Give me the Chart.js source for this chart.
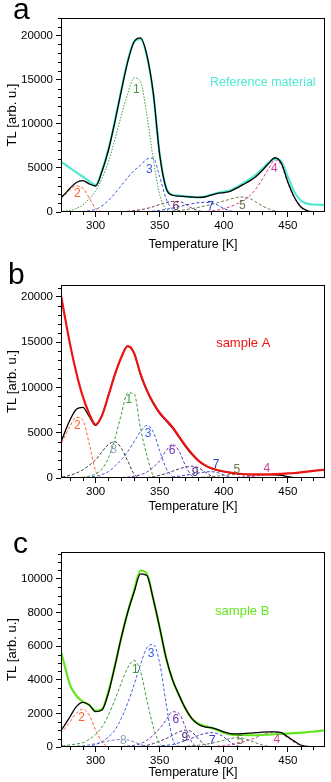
<!DOCTYPE html>
<html>
<head>
<meta charset="utf-8">
<script src="https://cdn.jsdelivr.net/npm/chart.js@4"></script>
<style>
body{margin:0;background:#fff;width:331px;height:782px;position:relative;overflow:hidden;font-family:"Liberation Sans",Arial,sans-serif}
.panel{position:absolute;left:0;width:331px}
.letter{position:absolute;font-size:30px;line-height:1;color:#000}
</style>
</head>
<body>
<div class="panel" style="top:0;height:252px"><canvas id="chartA"></canvas></div>
<div class="panel" style="top:252px;height:262px"><canvas id="chartB"></canvas></div>
<div class="panel" style="top:514px;height:266px"><canvas id="chartC"></canvas></div>
<div class="letter" style="top:-6px;left:13px">a</div>
<div class="letter" style="top:259px;left:8px">b</div>
<div class="letter" style="top:528px;left:13px">c</div>
<script>
// temperatures [K], one point every 5 K
const temps = [270,275,280,285,290,295,300,305,310,315,320,325,330,335,340,345,350,355,360,365,370,375,380,385,390,395,400,405,410,415,420,425,430,435,440,445,450,455,460,465,470,475,480];
const xTicks = [300, 350, 400, 450];

// ---- a : reference material
const aMeasured = [5900,5500,5000,4500,4000,3500,3050,4700,7100,10300,13800,17100,19300,19600,17700,13400,6600,2800,1950,1850,1800,1700,1650,1750,1950,2150,2300,2450,2800,3250,3700,4200,4900,5600,6050,5700,4000,2300,1300,950,850,800,820];
const aFit = [1300,1900,2700,3350,3550,3200,2950,4600,7000,10200,13700,17000,19300,19750,17800,13500,6500,2700,1900,1800,1750,1700,1650,1700,1900,2100,2200,2350,2700,3100,3500,4000,4700,5500,6150,5500,3400,1700,600,150,20,0,0];
const aPeak1 = [30,80,180,400,800,1500,2400,3800,5700,8200,10900,13400,15200,14800,11000,6000,2000,300,0,0,0,0,0,0,0,0,0,0,0,0,0,0,0,0,0,0,0,0,0,0,0,0,0];
const aPeak2 = [1200,1800,2500,2950,2700,1600,400,50,0,0,0,0,0,0,0,0,0,0,0,0,0,0,0,0,0,0,0,0,0,0,0,0,0,0,0,0,0,0,0,0,0,0,0];
const aPeak3 = [0,0,10,30,70,150,300,700,1300,2100,3000,3900,4700,5300,6000,6100,4000,1500,300,20,0,0,0,0,0,0,0,0,0,0,0,0,0,0,0,0,0,0,0,0,0,0,0];
const aPeak4 = [0,0,0,0,0,0,0,0,0,0,0,0,0,0,0,0,0,0,0,0,0,0,30,60,120,220,380,600,900,1300,1800,2600,3700,4900,5900,5300,3300,1600,550,130,10,0,0];
const aPeak5 = [0,0,0,0,0,0,0,0,0,0,0,0,0,0,0,0,0,50,100,170,260,380,520,680,850,1050,1250,1450,1650,1700,1550,1150,700,350,120,20,0,0,0,0,0,0,0];
const aPeak6 = [0,0,0,0,0,0,0,0,0,0,30,80,150,250,400,600,850,1050,1200,1200,900,450,150,30,0,0,0,0,0,0,0,0,0,0,0,0,0,0,0,0,0,0,0];
const aPeak7 = [0,0,0,0,0,0,0,0,0,0,0,0,0,0,50,100,180,300,450,600,780,930,1050,1100,1050,800,400,120,20,0,0,0,0,0,0,0,0,0,0,0,0,0,0];
const aTicks = [0, 5000, 10000, 15000, 20000];

// ---- b : sample A
const bMeasured = [22500,18600,14800,11600,9000,7100,5900,6900,9100,11400,13300,14550,13800,11500,9700,8300,7200,6400,5600,4600,3600,2700,1950,1450,1100,880,720,600,500,440,410,400,400,410,430,460,500,550,620,700,780,860,930];
const bFit = [3000,4700,6400,7600,7800,6800,5800,6900,9100,11400,13300,14550,13800,11400,9600,8200,7100,6300,5500,4500,3500,2600,1900,1400,1050,850,700,580,480,420,380,370,370,370,360,300,150,30,0,0,0,0,0];
const bPeak1 = [0,0,0,0,80,200,450,1000,2200,4300,7000,9400,9300,5500,2500,300,0,0,0,0,0,0,0,0,0,0,0,0,0,0,0,0,0,0,0,0,0,0,0,0,0,0,0];
const bPeak2 = [2900,4300,5700,6700,6400,3800,800,50,0,0,0,0,0,0,0,0,0,0,0,0,0,0,0,0,0,0,0,0,0,0,0,0,0,0,0,0,0,0,0,0,0,0,0];
const bPeak3 = [0,0,0,0,0,100,200,400,700,1300,2000,2900,4000,5100,5800,5100,3000,1100,150,0,0,0,0,0,0,0,0,0,0,0,0,0,0,0,0,0,0,0,0,0,0,0,0];
const bPeak4 = [0,0,0,0,0,0,0,0,0,0,0,0,0,0,0,0,0,0,0,0,0,0,0,0,0,0,30,50,80,130,180,240,300,360,370,300,150,30,0,0,0,0,0];
const bPeak5 = [0,0,0,0,0,0,0,0,0,0,0,0,0,0,0,0,0,0,0,0,0,0,50,100,150,220,300,380,400,350,200,80,0,0,0,0,0,0,0,0,0,0,0];
const bPeak6 = [0,0,0,0,0,0,0,0,0,0,50,100,200,350,650,1200,1900,3000,3750,3000,1400,250,0,0,0,0,0,0,0,0,0,0,0,0,0,0,0,0,0,0,0,0,0];
const bPeak7 = [0,0,0,0,0,0,0,0,0,0,0,0,0,0,0,0,30,60,100,200,300,430,550,650,700,600,350,100,0,0,0,0,0,0,0,0,0,0,0,0,0,0,0];
const bPeak8 = [50,150,300,550,900,1400,2000,2900,3700,4000,3300,1900,450,30,0,0,0,0,0,0,0,0,0,0,0,0,0,0,0,0,0,0,0,0,0,0,0,0,0,0,0,0,0];
const bPeak9 = [0,0,0,0,0,0,0,0,0,0,0,0,0,0,50,150,300,500,750,1000,1200,1300,1150,700,250,50,0,0,0,0,0,0,0,0,0,0,0,0,0,0,0,0,0];
const bTicks = [0, 5000, 10000, 15000, 20000];

// ---- c : sample B
const cMeasured = [6500,5100,3700,3050,2700,2500,2150,2250,3300,4800,6500,8000,9300,10500,10300,8800,7100,5300,4000,3100,2300,1700,1400,1250,1150,1000,850,750,720,720,700,700,720,740,760,780,800,820,850,880,920,960,1000];
const cFit = [700,1200,1800,2400,2650,2500,2100,2200,3200,4800,6500,8000,9200,10300,10200,8800,7100,5300,4000,3100,2300,1700,1350,1200,1150,1050,900,800,780,800,820,850,880,900,900,850,600,350,120,30,0,0,0];
const cPeak1 = [50,80,120,180,250,450,750,1200,1900,2800,3800,4700,5150,4500,2800,1200,200,0,0,0,0,0,0,0,0,0,0,0,0,0,0,0,0,0,0,0,0,0,0,0,0,0,0];
const cPeak2 = [600,1000,1500,2000,2250,1900,1000,300,30,0,0,0,0,0,0,0,0,0,0,0,0,0,0,0,0,0,0,0,0,0,0,0,0,0,0,0,0,0,0,0,0,0,0];
const cPeak3 = [0,0,0,0,0,50,150,300,600,1000,1700,2600,3700,4900,5900,6100,5000,2600,500,50,0,0,0,0,0,0,0,0,0,0,0,0,0,0,0,0,0,0,0,0,0,0,0];
const cPeak4 = [0,0,0,0,0,0,0,0,0,0,0,0,0,0,0,0,0,0,0,0,0,0,0,0,30,50,80,130,200,300,420,560,720,850,900,800,550,280,80,10,0,0,0];
const cPeak5 = [0,0,0,0,0,0,0,0,0,0,0,0,0,0,0,0,0,0,0,0,50,70,100,150,220,300,400,500,550,520,400,250,120,40,0,0,0,0,0,0,0,0,0];
const cPeak6 = [0,0,0,0,0,0,0,0,0,0,30,60,100,200,400,700,1100,1600,2100,2000,1200,300,30,0,0,0,0,0,0,0,0,0,0,0,0,0,0,0,0,0,0,0,0];
const cPeak7 = [0,0,0,0,0,0,0,0,0,0,0,0,0,0,0,30,60,100,150,250,380,520,680,800,850,800,600,300,80,10,0,0,0,0,0,0,0,0,0,0,0,0,0];
const cPeak8 = [0,0,20,50,80,130,200,280,360,420,450,420,300,150,40,0,0,0,0,0,0,0,0,0,0,0,0,0,0,0,0,0,0,0,0,0,0,0,0,0,0,0,0];
const cPeak9 = [0,0,0,0,0,0,0,0,0,0,0,0,0,50,100,200,350,500,700,900,1000,900,500,150,20,0,0,0,0,0,0,0,0,0,0,0,0,0,0,0,0,0,0];
const cTicks = [0, 2000, 4000, 6000, 8000, 10000];

const FONT = '"Liberation Sans", Arial, sans-serif';
const col = {
  p1: '#3f9a3f', p2: '#ff5f2e', p3: '#3b5fe0', p4: '#d03c9c', p5: '#6a7a48',
  p6: '#7434b4', p6a: '#6a2c62', p7: '#2e3ed0', p8: '#383838', p8c: '#6f7fae', p8t: '#90a4b4', p9: '#4e2a6a'
};

function line(vals, color, width, dash) {
  return {
    data: temps.map((t, i) => ({ x: t, y: vals[i] })),
    borderColor: color, borderWidth: width, borderDash: dash || [],
    pointRadius: 0, fill: false, cubicInterpolationMode: 'monotone'
  };
}

// box round the plot + short minor ticks
const frame = {
  id: 'frame',
  afterDraw(chart, args, opts) {
    const { ctx, chartArea: a, scales: { x, y } } = chart;
    ctx.save();
    ctx.strokeStyle = '#000';
    ctx.lineWidth = 1;
    ctx.strokeRect(Math.round(a.left) + 0.5, Math.round(a.top) + 0.5, Math.round(a.right - a.left) - 1, Math.round(a.bottom - a.top) - 1);
    ctx.beginPath();
    for (let t = 280; t <= x.max; t += 10) {
      if (t % 50 === 0) continue;
      const px = Math.round(x.getPixelForValue(t)) + 0.5;
      ctx.moveTo(px, a.bottom); ctx.lineTo(px, a.bottom + 3);
    }
    for (let v = opts.yMinor; v <= y.max; v += opts.yMinor) {
      if (v % opts.yMajor === 0) continue;
      const py = Math.round(y.getPixelForValue(v)) + 0.5;
      ctx.moveTo(a.left, py); ctx.lineTo(a.left - 3, py);
    }
    ctx.stroke();
    ctx.restore();
  }
};

// peak numbers and sample names
const notes = {
  id: 'notes',
  afterDatasetsDraw(chart, args, opts) {
    const { ctx, scales: { x, y } } = chart;
    ctx.save();
    ctx.textAlign = 'center';
    ctx.textBaseline = 'middle';
    opts.items.forEach(n => {
      ctx.font = (n.size || 12) + 'px ' + FONT;
      ctx.fillStyle = n.color;
      ctx.fillText(n.text, x.getPixelForValue(n.x), y.getPixelForValue(n.y));
    });
    ctx.restore();
  }
};

function makeChart(id, datasets, o) {
  new Chart(document.getElementById(id), {
    type: 'line',
    data: { datasets: datasets },
    options: {
      animation: false,
      responsive: true,
      maintainAspectRatio: false,
      layout: { padding: { top: o.padTop, right: 6, left: 0, bottom: 0 } },
      plugins: {
        legend: { display: false },
        tooltip: { enabled: false },
        frame: { yMinor: o.yMinor, yMajor: o.yMajor },
        notes: { items: o.notes }
      },
      scales: {
        x: {
          type: 'linear', min: 273, max: 479,
          afterBuildTicks: s => { s.ticks = xTicks.map(v => ({ value: v })); },
          afterFit: s => { s.height = o.xHeight; },
          grid: { drawOnChartArea: false, drawTicks: true, tickLength: 5, color: '#000' },
          border: { display: false },
          ticks: { color: '#000', font: { size: 11.5, family: FONT }, padding: 2, maxRotation: 0, autoSkip: false, callback: v => String(v) },
          title: { display: true, text: 'Temperature [K]', color: '#000', font: { size: 12.5, family: FONT }, padding: { top: 0, bottom: 0 } }
        },
        y: {
          type: 'linear', min: 0, max: o.yMax,
          afterBuildTicks: s => { s.ticks = o.yTicks.map(v => ({ value: v })); },
          afterFit: s => { s.width = 61; },
          grid: { drawOnChartArea: false, drawTicks: true, tickLength: 5, color: '#000' },
          border: { display: false },
          ticks: { color: '#000', font: { size: 11.5, family: FONT }, padding: 3, autoSkip: false, callback: v => String(v) },
          title: { display: true, text: 'TL [arb. u.]', color: '#000', font: { size: 13, family: FONT }, padding: { top: 5, bottom: 0 } }
        }
      }
    },
    plugins: [frame, notes]
  });
}

const dash = [3, 2];

makeChart('chartA', [
  line(aFit, '#000', 1.3),
  line(aMeasured, '#52e8d2', 2.2),
  line(aPeak1, col.p1, 1, [1.5, 1.5]),
  line(aPeak2, col.p2, 1, dash),
  line(aPeak3, col.p3, 1, dash),
  line(aPeak4, col.p4, 1, dash),
  line(aPeak5, col.p5, 1, dash),
  line(aPeak6, col.p6a, 1, dash),
  line(aPeak7, col.p7, 1, dash)
], {
  padTop: 18, xHeight: 40, yMax: 22000, yTicks: aTicks, yMinor: 1000, yMajor: 5000,
  notes: [
    { text: '1', x: 331.7, y: 13900, color: col.p1 },
    { text: '2', x: 285.8, y: 2100, color: col.p2 },
    { text: '3', x: 342, y: 4800, color: col.p3 },
    { text: '4', x: 439.4, y: 4900, color: col.p4 },
    { text: '5', x: 414.5, y: 700, color: col.p5 },
    { text: '6', x: 362.6, y: 600, color: col.p6a },
    { text: '7', x: 389.8, y: 600, color: col.p7 },
    { text: 'Reference material', x: 430.5, y: 14700, color: '#52e8d2', size: 12.5 }
  ]
});

makeChart('chartB', [
  line(bMeasured, '#ee1414', 2.2),
  line(bFit, '#000', 1.3),
  line(bPeak1, col.p1, 1, dash),
  line(bPeak2, col.p2, 1, dash),
  line(bPeak3, col.p3, 1, dash),
  line(bPeak4, col.p4, 1, dash),
  line(bPeak5, col.p5, 1, dash),
  line(bPeak6, col.p6, 1, dash),
  line(bPeak7, col.p7, 1, dash),
  line(bPeak8, col.p8, 1, dash),
  line(bPeak9, col.p9, 1, dash)
], {
  padTop: 33, xHeight: 36, yMax: 21300, yTicks: bTicks, yMinor: 1000, yMajor: 5000,
  notes: [
    { text: '1', x: 326, y: 8650, color: col.p1 },
    { text: '2', x: 285.8, y: 5750, color: col.p2 },
    { text: '8', x: 314, y: 3130, color: col.p8t },
    { text: '3', x: 341, y: 4900, color: col.p3 },
    { text: '6', x: 359.6, y: 2980, color: col.p6 },
    { text: '9', x: 377.6, y: 590, color: col.p9 },
    { text: '7', x: 394, y: 1470, color: col.p7 },
    { text: '5', x: 410.2, y: 920, color: col.p5 },
    { text: '4', x: 433.7, y: 1030, color: col.p4 },
    { text: 'sample A', x: 415.2, y: 14800, color: '#ee1414', size: 13 }
  ]
});

makeChart('chartC', [
  line(cFit, '#000', 1.3),
  line(cMeasured, '#62e61c', 2.2),
  line(cPeak1, col.p1, 1, dash),
  line(cPeak2, col.p2, 1, dash),
  line(cPeak3, col.p3, 1, dash),
  line(cPeak4, col.p4, 1, dash),
  line(cPeak5, col.p5, 1, dash),
  line(cPeak6, col.p6, 1, dash),
  line(cPeak7, col.p7, 1, dash),
  line(cPeak8, col.p8c, 1, dash),
  line(cPeak9, col.p9, 1, dash)
], {
  padTop: 38, xHeight: 33, yMax: 11600, yTicks: cTicks, yMinor: 500, yMajor: 2000,
  notes: [
    { text: '1', x: 331, y: 4610, color: col.p1 },
    { text: '2', x: 289, y: 1730, color: col.p2 },
    { text: '3', x: 343.2, y: 5570, color: col.p3 },
    { text: '6', x: 362.6, y: 1630, color: col.p6 },
    { text: '9', x: 369.6, y: 560, color: col.p9 },
    { text: '8', x: 321.6, y: 360, color: col.p8t },
    { text: '7', x: 391, y: 400, color: col.p7 },
    { text: '5', x: 412.8, y: 400, color: col.p5 },
    { text: '4', x: 441.5, y: 440, color: col.p4 },
    { text: 'sample B', x: 414.4, y: 8050, color: '#62e61c', size: 13 }
  ]
});
</script>
</body>
</html>
